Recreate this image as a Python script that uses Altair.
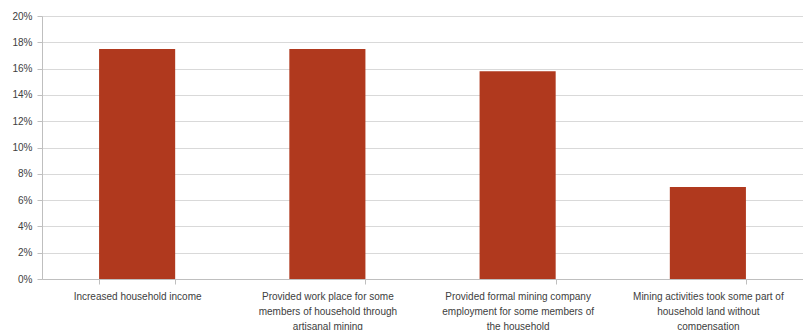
import altair as alt
import pandas as pd

# Household responses about mining impacts (share of respondents)
categories = [
    "Increased household income",
    "Provided work place for some\nmembers of household through\nartisanal mining",
    "Provided formal mining company\nemployment for some members of\nthe household",
    "Mining activities took some part of\nhousehold land without\ncompensation",
]
shares = [0.175, 0.175, 0.158, 0.070]

df = pd.DataFrame({"category": categories, "share": shares})

label_font = "Liberation Sans"
text_color = "#404040"

chart = (
    alt.Chart(df)
    .mark_bar(color="#B0391E")
    .encode(
        x=alt.X(
            "category:N",
            sort=None,
            title=None,
            scale=alt.Scale(paddingInner=0.6, paddingOuter=0.3),
            axis=alt.Axis(
                labelAngle=0,
                labelExpr="split(datum.label, '\\n')",
                labelFont=label_font,
                labelFontSize=10,
                labelColor=text_color,
                labelLineHeight=15,
                labelPadding=7,
                labelLimit=300,
                tickBand="extent",
                tickSize=5,
                tickColor="#BFBFBF",
                domainColor="#BFBFBF",
                grid=False,
            ),
        ),
        y=alt.Y(
            "share:Q",
            title=None,
            scale=alt.Scale(domain=[0, 0.20]),
            axis=alt.Axis(
                format=".0%",
                values=[i / 100 for i in range(0, 21, 2)],
                labelFont=label_font,
                labelFontSize=10,
                labelColor=text_color,
                labelPadding=5,
                tickSize=5,
                tickColor="#BFBFBF",
                domainColor="#BFBFBF",
                gridColor="#D9D9D9",
            ),
        ),
    )
    .properties(
        width=761,
        height=263,
        autosize=alt.AutoSizeParams(type="none"),
        padding={"left": 42, "top": 16, "right": 0, "bottom": 51},
    )
    .configure_view(stroke=None)
    .configure(background="white")
)

chart.save("out.html", embed_options={"renderer": "svg", "actions": False})
